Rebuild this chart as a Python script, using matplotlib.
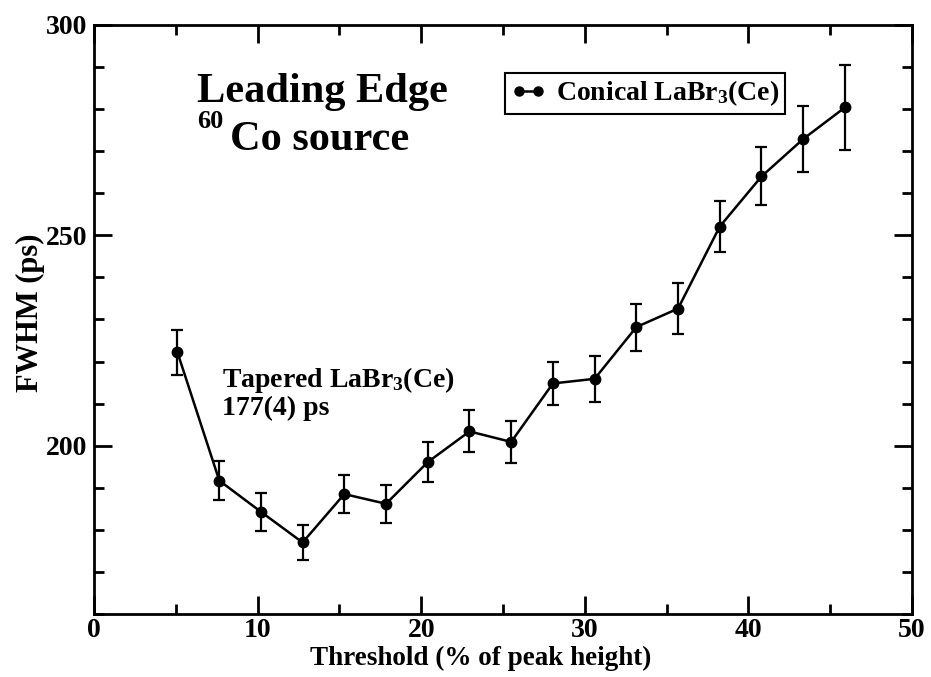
import matplotlib
matplotlib.use("Agg")
import matplotlib.pyplot as plt
from matplotlib.ticker import MultipleLocator
from matplotlib.lines import Line2D

plt.rcParams['font.family'] = ['Liberation Serif', 'DejaVu Serif']
plt.rcParams['font.weight'] = 'bold'
plt.rcParams['mathtext.fontset'] = 'custom'
plt.rcParams['mathtext.rm'] = 'Liberation Serif:bold'
plt.rcParams['mathtext.it'] = 'Liberation Serif:italic:bold'
plt.rcParams['mathtext.bf'] = 'Liberation Serif:bold'

threshold = [5.1, 7.66, 10.2, 12.75, 15.3, 17.85, 20.4, 22.95, 25.5, 28.05,
             30.6, 33.15, 35.7, 38.25, 40.8, 43.35, 45.9]
fwhm = [222.2, 191.7, 184.3, 177.0, 188.5, 186.2, 196.1, 203.4, 200.9, 214.8,
        215.9, 228.2, 232.6, 252.1, 264.0, 272.9, 280.4]
err = [5.4, 4.6, 4.5, 4.2, 4.6, 4.5, 4.7, 5.0, 5.0, 5.2,
       5.4, 5.6, 6.1, 6.1, 6.9, 7.8, 10.1]
series_label = r'Conical LaBr$_3$(Ce)'

fig = plt.figure(figsize=(9.31, 6.77), dpi=100)
ax = fig.add_axes([94/931, 1 - 614/677, (912-94)/931, (614-25)/677])

ax.errorbar(threshold, fwhm, yerr=err, color='black', lw=1.8, marker='o',
            markersize=7.5, capsize=4.5, elinewidth=1.6, capthick=1.6)

ax.set_xlim(0, 50)
ax.set_ylim(160, 300)
ax.xaxis.set_major_locator(MultipleLocator(10))
ax.xaxis.set_minor_locator(MultipleLocator(5))
ax.yaxis.set_major_locator(MultipleLocator(50))
ax.yaxis.set_minor_locator(MultipleLocator(10))
ax.tick_params(which='both', direction='in', top=True, right=True, width=2)
ax.tick_params(which='major', length=13, labelsize=20)
ax.tick_params(axis='x', which='major', pad=3)
ax.tick_params(axis='y', which='major', pad=5)
ax.tick_params(which='minor', length=7)
for s in ax.spines.values():
    s.set_linewidth(2)

ax.set_xlabel('Threshold (% of peak height)', fontsize=19.5, fontweight='bold', va='baseline')
ax.xaxis.set_label_coords(0.4725, (614-665)/589)
ax.set_ylabel('FWHM (ps)', fontsize=22, fontweight='bold', va='baseline')
ax.yaxis.set_label_coords((38-94)/818, 0.512)

ax.text(0.126, 0.869, 'Leading Edge', transform=ax.transAxes, fontsize=30.5,
        fontweight='bold', va='baseline', ha='left')
ax.text(0.126, 0.825, '60', transform=ax.transAxes, fontsize=19,
        fontweight='bold', va='baseline', ha='left')
ax.text(0.166, 0.788, 'Co source', transform=ax.transAxes, fontsize=30.5,
        fontweight='bold', va='baseline', ha='left')
ax.text(0.1565, 0.385, r'Tapered LaBr$_3$(Ce)', transform=ax.transAxes,
        fontsize=20, fontweight='bold', va='baseline', ha='left')
ax.text(0.1565, 0.338, '177(4) ps', transform=ax.transAxes,
        fontsize=20, fontweight='bold', va='baseline', ha='left')

handle = Line2D([], [], color='black', lw=1.8, marker='o', markersize=6.5)
leg = ax.legend([handle], [series_label], loc='upper left',
                bbox_to_anchor=(0.502, 0.9185), fontsize=20, numpoints=2,
                frameon=True, fancybox=False, edgecolor='black', framealpha=1,
                handlelength=1.3, handletextpad=0.35, borderpad=0.2,
                borderaxespad=0)
leg.get_frame().set_linewidth(1.5)

fig.savefig('out.png', dpi=100)
